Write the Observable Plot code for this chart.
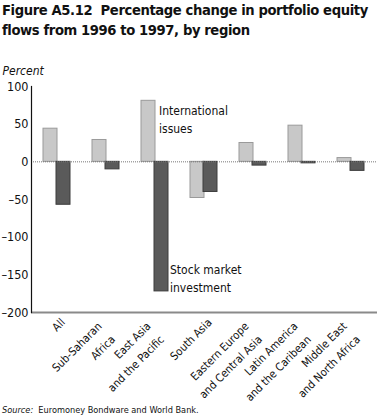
<!DOCTYPE html>
<html>
<head>
<meta charset="utf-8">
<script src="https://cdn.jsdelivr.net/npm/d3@7"></script>
<script src="https://cdn.jsdelivr.net/npm/@observablehq/plot@0.6"></script>
<style>
  html, body { margin: 0; padding: 0; background: #fff; }
  body { width: 377px; height: 420px; position: relative; overflow: hidden;
         font-family: "DejaVu Sans Condensed", "DejaVu Sans", sans-serif; font-stretch: condensed; color: #111; }
  #title { position: absolute; left: 2px; top: 0px; font-weight: bold; font-size: 18px;
           line-height: 20px; white-space: nowrap; letter-spacing: -0.4px; }
  #title span, #source span { display: inline-block; }
  #chart { position: absolute; left: 0; top: 40px; }
  #source { position: absolute; left: 2px; top: 405px; font-size: 11px; white-space: pre; }
  svg text { font-stretch: condensed; }
</style>
</head>
<body>
<div id="title"><span id="t1">Figure A5.12&nbsp; Percentage change in portfolio equity</span><br><span>flows from 1996 to 1997, by region</span></div>
<div id="chart"></div>
<div id="source"><span id="s1"><i>Source:</i>  Euromoney Bondware and World Bank.</span></div>
<script>
const regions = ["All", "Sub-Saharan Africa", "East Asia and the Pacific", "South Asia",
  "Eastern Europe and Central Asia", "Latin America and the Caribean", "Middle East and North Africa"];
const regionLabels = ["All", "Sub-Saharan\nAfrica", "East Asia\nand the Pacific", "South Asia",
  "Eastern Europe\nand Central Asia", "Latin America\nand the Caribean", "Middle East\nand North Africa"];
const internationalIssues = [44, 29, 81, -48, 25, 48, 5];
const stockMarket = [-57, -10, -172, -40, -5, -2, -12];
const yTicks = [100, 50, 0, -50, -100, -150, -200];

const intl = regions.map((r, i) => ({region: r, value: internationalIssues[i]}));
const stock = regions.map((r, i) => ({region: r, value: stockMarket[i]}));
const labels = regions.map((r, i) => ({region: r, label: regionLabels[i]}));

const font = "DejaVu Sans Condensed, DejaVu Sans, sans-serif";

const chart = Plot.plot({
  width: 377,
  height: 362,
  marginLeft: 31,
  marginRight: 0,
  marginTop: 46,
  marginBottom: 90,
  style: {fontFamily: font, fontSize: "12px", color: "#111", background: "#fff", overflow: "visible"},
  x: {type: "band", domain: regions, padding: 0, axis: null},
  y: {domain: [-200, 100], ticks: yTicks, label: null},
  marks: [
    Plot.axisY({ticks: yTicks, tickSize: 0, tickPadding: 3, fontSize: 12.5, label: null,
      tickFormat: d => d < 0 ? "\u2013" + Math.abs(d) : String(d)}),
    Plot.barY(intl, {x: "region", y: "value", insetLeft: 10, insetRight: 25,
      fill: "#c8c8c8", stroke: "#9a9a9a", strokeWidth: 1}),
    Plot.barY(stock, {x: "region", y: "value", insetLeft: 23, insetRight: 12,
      fill: "#5a5a5a", stroke: "#3c3c3c", strokeWidth: 1}),
    Plot.ruleY([0], {stroke: "#777", strokeDasharray: "1,1"}),
    Plot.ruleY([-200], {stroke: "#8a8a8a", strokeWidth: 2}),
    Plot.frame({anchor: "left", stroke: "#111", strokeWidth: 1.2}),
    Plot.text(["Percent"], {frameAnchor: "top-left", dx: -29, dy: -12, fontStyle: "italic",
      fontSize: 12, textAnchor: "start", lineAnchor: "bottom"}),
    Plot.text([intl[2]], {x: "region", y: "value", text: () => "International\nissues",
      textAnchor: "start", lineAnchor: "top", dx: 3, dy: 1.5, fontSize: 12, lineHeight: 1.5}),
    Plot.text([stock[2]], {x: "region", y: "value", text: () => "Stock market\ninvestment",
      textAnchor: "start", lineAnchor: "bottom", dx: 14, dy: 1, fontSize: 12, lineHeight: 1.55}),
    Plot.text(labels, {filter: d => !d.label.includes("\n"), x: "region", text: "label", frameAnchor: "bottom",
      rotate: -45, textAnchor: "end", lineAnchor: "top", dx: 2, dy: 5, fontSize: 11.2}),
    Plot.text(labels, {filter: d => d.label.includes("\n"), x: "region", text: "label", frameAnchor: "bottom",
      rotate: -45, textAnchor: "end", lineAnchor: "top", dx: -14, dy: 5, fontSize: 11.2, lineHeight: 1.68})
  ]
});
document.getElementById("chart").appendChild(chart);

const fitFont = (boxId, spanId, target, base) => {
  const t = document.getElementById(boxId);
  t.style.fontSize = base + "px";
  const w = document.getElementById(spanId).getBoundingClientRect().width;
  if (w > target) t.style.fontSize = (base * target / w).toFixed(2) + "px";
};
const fit = () => { fitFont("title", "t1", 370, 18); fitFont("source", "s1", 197, 11); };
fit();
if (document.fonts && document.fonts.ready) document.fonts.ready.then(fit);
</script>
</body>
</html>
